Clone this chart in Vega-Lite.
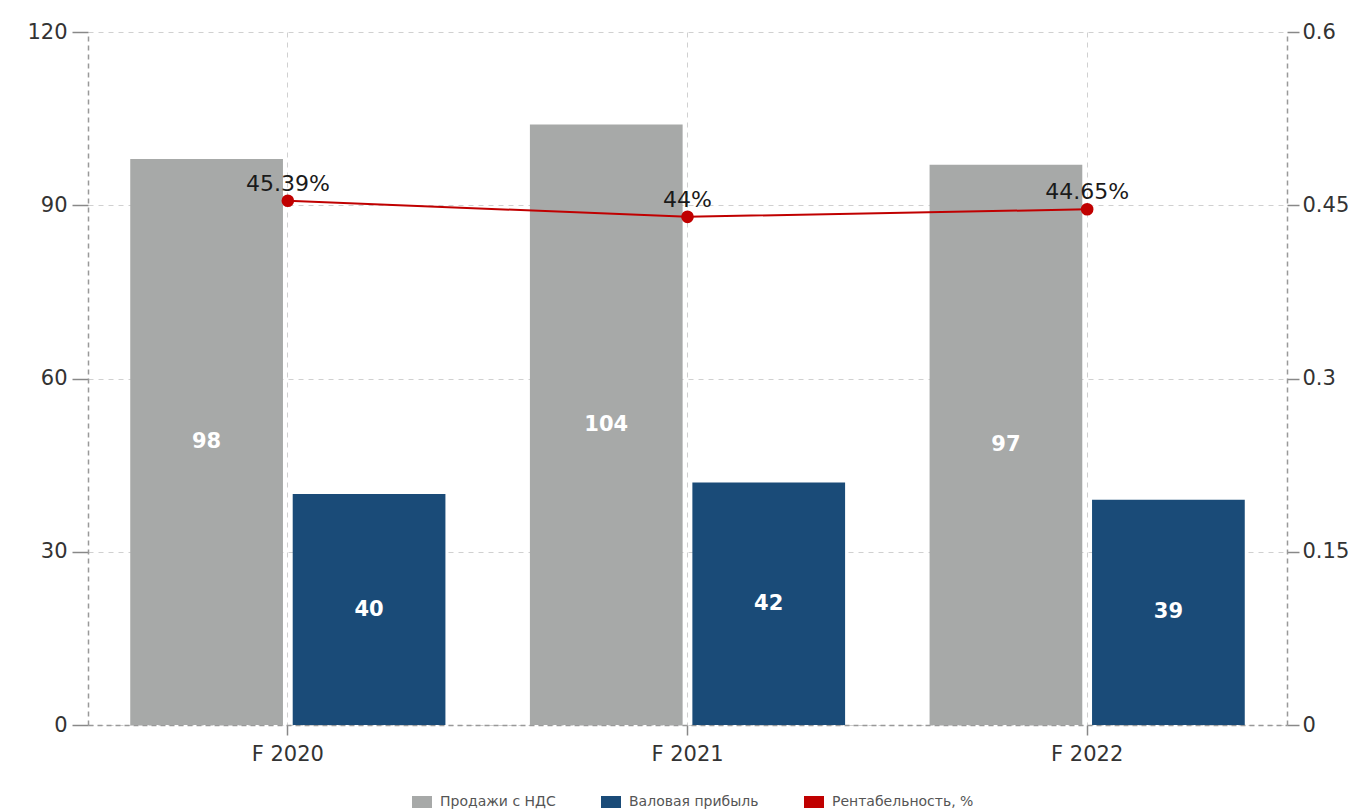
{
  "$schema": "https://vega.github.io/schema/vega-lite/v6.json",
  "width": 1199,
  "height": 693,
  "autosize": {"type": "none"},
  "padding": {"left": 88, "top": 32, "right": 81, "bottom": 87},
  "background": "white",
  "config": {
    "view": {"stroke": null},
    "font": "DejaVu Sans",
    "axis": {
      "labelFont": "DejaVu Sans",
      "labelFontSize": 21,
      "labelColor": "#333333",
      "title": null,
      "domainColor": "#999999",
      "domainDash": [5, 4],
      "domainWidth": 1.5,
      "tickColor": "#888888",
      "tickWidth": 1.5,
      "gridColor": "#d0d0d0",
      "gridDash": [5, 5],
      "gridWidth": 1
    }
  },
  "datasets": {
    "bars": [
      {"year": "F 2020", "series": "Продажи с НДС", "value": 98},
      {"year": "F 2020", "series": "Валовая прибыль", "value": 40},
      {"year": "F 2021", "series": "Продажи с НДС", "value": 104},
      {"year": "F 2021", "series": "Валовая прибыль", "value": 42},
      {"year": "F 2022", "series": "Продажи с НДС", "value": 97},
      {"year": "F 2022", "series": "Валовая прибыль", "value": 39}
    ],
    "margin": [
      {"year": "F 2020", "margin": 0.4539},
      {"year": "F 2021", "margin": 0.44},
      {"year": "F 2022", "margin": 0.4465}
    ]
  },
  "encoding": {
    "x": {
      "field": "year",
      "type": "nominal",
      "sort": null,
      "scale": {"paddingInner": 0, "paddingOuter": 0},
      "axis": {
        "labelAngle": 0,
        "grid": true,
        "bandPosition": 0.5,
        "tickBand": "center",
        "tickSize": 10,
        "labelPadding": 8
      }
    }
  },
  "layer": [
    {
      "data": {"name": "bars"},
      "mark": {"type": "bar"},
      "encoding": {
        "xOffset": {
          "field": "series",
          "type": "nominal",
          "sort": ["Продажи с НДС", "Валовая прибыль"],
          "scale": {"paddingInner": 0.06, "paddingOuter": 0.26}
        },
        "y": {
          "field": "value",
          "type": "quantitative",
          "scale": {"domain": [0, 120], "nice": false},
          "axis": {
            "values": [0, 30, 60, 90, 120],
            "grid": true,
            "tickSize": 16,
            "labelPadding": 5
          }
        },
        "color": {
          "field": "series",
          "type": "nominal",
          "scale": {
            "domain": ["Продажи с НДС", "Валовая прибыль", "Рентабельность, %"],
            "range": ["#a7a9a8", "#1a4b78", "#c00000"]
          },
          "legend": {
            "title": null,
            "orient": "none",
            "legendX": 324,
            "legendY": 760,
            "direction": "horizontal",
            "symbolType": "M-1,-0.6L1,-0.6L1,0.6L-1,0.6Z",
            "symbolSize": 400,
            "symbolStrokeWidth": 0,
            "symbolOffset": 0,
            "labelOffset": 8,
            "labelFontSize": 14,
            "labelColor": "#555555",
            "labelFont": "DejaVu Sans",
            "columnPadding": 45
          }
        }
      }
    },
    {
      "data": {"name": "bars"},
      "mark": {"type": "text", "color": "white", "fontSize": 21, "fontWeight": "bold", "baseline": "middle"},
      "encoding": {
        "xOffset": {
          "field": "series",
          "type": "nominal",
          "sort": ["Продажи с НДС", "Валовая прибыль"],
          "scale": {"paddingInner": 0.06, "paddingOuter": 0.26}
        },
        "y": {
          "field": "value",
          "type": "quantitative",
          "scale": {"domain": [0, 240], "nice": false},
          "axis": null
        },
        "text": {"field": "value", "type": "quantitative"}
      }
    },
    {
      "data": {"name": "margin"},
      "encoding": {
        "y": {
          "field": "margin",
          "type": "quantitative",
          "scale": {"domain": [0, 0.6], "nice": false},
          "axis": {
            "orient": "right",
            "values": [0, 0.15, 0.3, 0.45, 0.6],
            "format": ".2~f",
            "grid": false,
            "tickSize": 12,
            "labelPadding": 3
          }
        }
      },
      "layer": [
        {"mark": {"type": "line", "color": "#c00000", "strokeWidth": 2}},
        {"mark": {"type": "point", "filled": true, "color": "#c00000", "size": 160, "opacity": 1}},
        {
          "mark": {"type": "text", "fontSize": 22, "color": "#1a1a1a", "baseline": "bottom", "dy": -5},
          "encoding": {"text": {"field": "margin", "type": "quantitative", "format": "~%"}}
        }
      ]
    }
  ],
  "resolve": {"scale": {"y": "independent"}}
}
